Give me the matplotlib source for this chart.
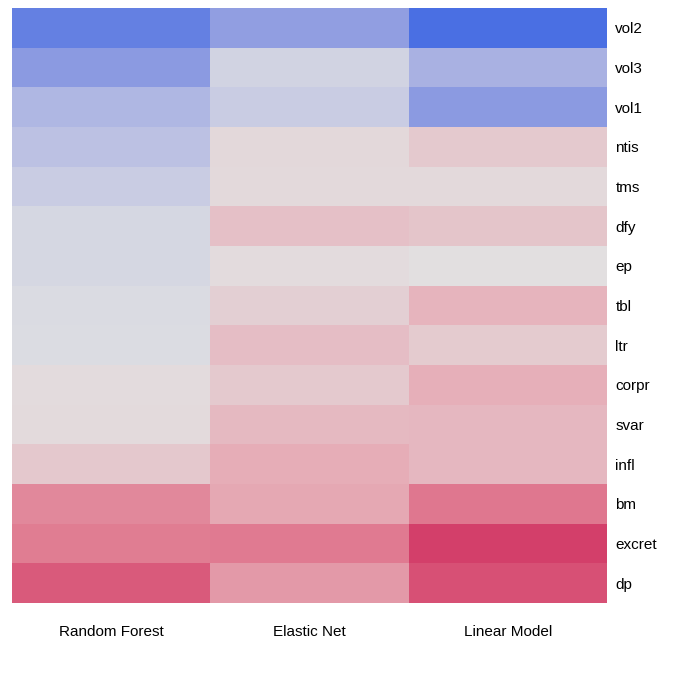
import numpy as np
import matplotlib
matplotlib.use("Agg")
import matplotlib.pyplot as plt
from matplotlib.colors import LinearSegmentedColormap

models = ["Random Forest", "Elastic Net", "Linear Model"]
variables = ["vol2", "vol3", "vol1", "ntis", "tms", "dfy", "ep", "tbl", "ltr",
             "corpr", "svar", "infl", "bm", "excret", "dp"]

# signed relative importance (negative = blue, positive = red)
random_forest = [-0.85, -0.62, -0.37, -0.28, -0.18, -0.10, -0.10, -0.06, -0.05,
                 0.04, 0.05, 0.17, 0.58, 0.65, 0.85]
elastic_net = [-0.58, -0.13, -0.18, 0.07, 0.06, 0.22, 0.04, 0.12, 0.24,
               0.16, 0.27, 0.35, 0.38, 0.67, 0.47]
linear_model = [-1.00, -0.42, -0.62, 0.16, 0.06, 0.19, 0.02, 0.30, 0.15,
                0.33, 0.28, 0.28, 0.68, 1.00, 0.90]

palette = ["#4A6FE3", "#8595E1", "#B5BBE3", "#E2E2E2", "#E6AFB9", "#E07B91", "#D33F6A"]
cmap = LinearSegmentedColormap.from_list("bluered", palette)

data = np.array([random_forest, elastic_net, linear_model]).T

plt.rcParams["font.family"] = ["Liberation Sans", "DejaVu Sans"]
fig = plt.figure(figsize=(6.91, 6.83), dpi=100)
ax = fig.add_axes([12/691, 1 - 603/683, 595/691, 595/683])
ax.pcolormesh(np.arange(4), np.arange(16), data, cmap=cmap, vmin=-1, vmax=1)
ax.set_xlim(0, 3)
ax.set_ylim(15, 0)
ax.set_xticks(np.arange(3) + 0.5)
ax.set_xticklabels(models, fontsize=11)
ax.set_yticks(np.arange(15) + 0.5)
ax.set_yticklabels(variables, fontsize=11)
ax.yaxis.tick_right()
ax.tick_params(length=0, pad=6)
ax.tick_params(axis="x", pad=16)
for s in ax.spines.values():
    s.set_visible(False)
fig.savefig("out.png", dpi=100)
